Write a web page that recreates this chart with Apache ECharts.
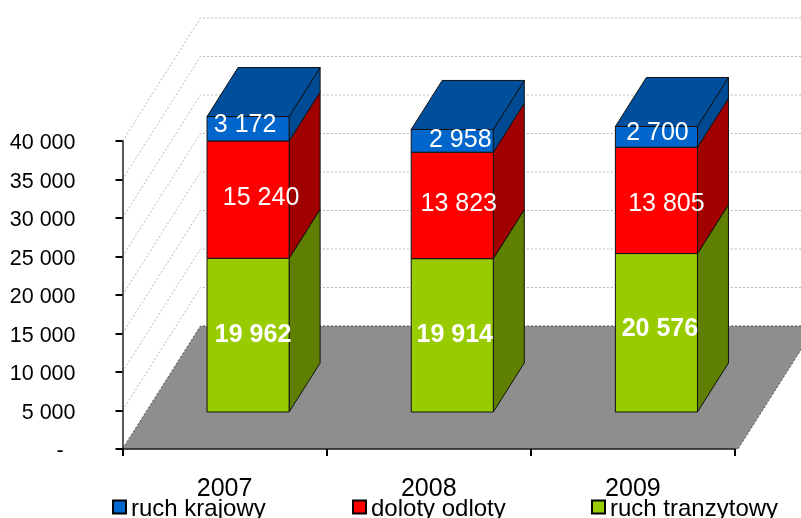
<!DOCTYPE html>
<html>
<head>
<meta charset="utf-8">
<style>html,body{margin:0;padding:0;background:#fff;overflow:hidden}#c{width:801px;height:518px}</style>
<script src="https://cdn.jsdelivr.net/npm/echarts@6/dist/echarts.min.js"></script>
</head>
<body>
<div id="c"></div>
<script>
const categories = ['2007', '2008', '2009'];
const ruchKrajowy = [3172, 2958, 2700];
const dolotyOdloty = [15240, 13823, 13805];
const ruchTranzytowy = [19962, 19914, 20576];
const yTicks = [0, 5000, 10000, 15000, 20000, 25000, 30000, 35000, 40000];

// Perspective of the fake-3D plot (pixels)
const WALL_DX = 78, WALL_DY = -123;
const FRONT_DX = 23.5, FRONT_DY = -37;
const BAR_DX = 31, BAR_DY = -49;
const BAR_RATIO = 0.402;
const FONT = '"Liberation Sans", Arial, sans-serif';
const fmt = v => v === 0 ? '-\u00A0\u00A0' : String(v).replace(/\B(?=(\d{3})+$)/g, ' ');

// Manual label nudges from the reference [dx, dy] per category
const nudgeBlue = [[-3, -4], [8, -1], [1, -4]];
const nudgeRed = [[13, -1.5], [6.5, -1.5], [10, 3.5]];
const nudgeGreen = [[5, 0], [2.5, 0], [3.5, -4]];

function segments(values, below) {
  return values.map((v, i) => {
    const base = below.reduce((s, arr) => s + arr[i], 0);
    return [i, base, base + v, v];
  });
}

function barSeries(name, values, below, look, nudges, bold, hasTop) {
  return {
    name, type: 'custom', coordinateSystem: 'cartesian2d', z: 4,
    itemStyle: { color: look.front },
    encode: { x: 0, y: 2 },
    data: segments(values, below),
    renderItem(params, api) {
      const i = api.value(0);
      const cx = api.coord([i, 0])[0] + FRONT_DX;
      const w = api.size([1, 0])[0] * BAR_RATIO;
      const yb = api.coord([i, api.value(1)])[1] + FRONT_DY;
      const yt = api.coord([i, api.value(2)])[1] + FRONT_DY;
      const l = cx - w / 2, r = cx + w / 2;
      const edge = { stroke: '#111', lineWidth: 1 };
      const children = [
        { type: 'polygon', shape: { points: [[r, yb], [r + BAR_DX, yb + BAR_DY], [r + BAR_DX, yt + BAR_DY], [r, yt]] },
          style: Object.assign({ fill: look.side }, edge) },
        { type: 'rect', shape: { x: l, y: yt, width: w, height: yb - yt },
          style: Object.assign({ fill: look.front }, edge) }
      ];
      if (hasTop) {
        children.push({ type: 'polygon',
          shape: { points: [[l, yt], [l + BAR_DX, yt + BAR_DY], [r + BAR_DX, yt + BAR_DY], [r, yt]] },
          style: Object.assign({ fill: look.top }, edge) });
      }
      children.push({ type: 'text', style: {
        text: fmt(api.value(3)),
        x: cx + nudges[i][0], y: (yb + yt) / 2 + nudges[i][1],
        fill: '#fff', align: 'center', verticalAlign: 'middle',
        font: (bold ? 'bold ' : '') + '25px ' + FONT
      } });
      return { type: 'group', children };
    }
  };
}

const wallSeries = {
  type: 'custom', coordinateSystem: 'cartesian2d', z: 1, silent: true,
  encode: { x: 0, y: 1 },
  data: yTicks.map(t => [0, t]),
  renderItem(params, api) {
    const cs = params.coordSys;
    const y = api.coord([0, api.value(1)])[1];
    const x0 = cs.x, x1 = cs.x + cs.width;
    const style = { stroke: '#b8b8b8', lineWidth: 1, lineDash: [2, 2], fill: 'none' };
    return { type: 'polyline',
      shape: { points: [[x0, y], [x0 + WALL_DX, y + WALL_DY], [x1 + WALL_DX, y + WALL_DY]] },
      style };
  }
};

const floorSeries = {
  type: 'custom', coordinateSystem: 'cartesian2d', z: 2, silent: true,
  encode: { x: 0, y: 1 },
  data: [[0, 0]],
  renderItem(params, api) {
    const cs = params.coordSys;
    const y = api.coord([0, 0])[1];
    const x0 = cs.x, x1 = cs.x + cs.width + 3;
    return { type: 'polygon',
      shape: { points: [[x0, y], [x1, y], [x1 + WALL_DX, y + WALL_DY], [x0 + WALL_DX, y + WALL_DY]] },
      style: { fill: '#8e8e8e', stroke: '#555', lineWidth: 1, lineDash: [2, 2] } };
  }
};

const LOOK = {
  blue: { front: '#0066cc', side: '#004a94', top: '#004f9c' },
  red: { front: '#ff0000', side: '#a00000' },
  green: { front: '#99cc00', side: '#5f7f00' }
};

function legendAt(name, left) {
  return {
    data: [name], left, top: 497, orient: 'horizontal', icon: 'rect',
    itemWidth: 13, itemHeight: 13, selectedMode: false, padding: 0,
    itemStyle: { borderColor: '#000', borderWidth: 2 },
    formatter: '{t|{name}}',
    textStyle: { fontFamily: FONT, fontSize: 24, color: '#000',
      rich: { t: { fontFamily: FONT, fontSize: 24, color: '#000', padding: [4, 0, 0, 0] } } }
  };
}

const chart = echarts.init(document.getElementById('c'), null, { renderer: 'canvas' });
chart.setOption({
  animation: false,
  backgroundColor: '#fff',
  grid: { left: 122.5, right: 801 - 735, top: 141, bottom: 518 - 449, containLabel: false },
  legend: [
    legendAt('ruch krajowy', 112),
    legendAt('doloty odloty', 352),
    legendAt('ruch tranzytowy', 591)
  ],
  xAxis: {
    type: 'category', data: categories, z: 5,
    axisLine: { lineStyle: { color: '#222', width: 1.5 } },
    axisTick: { show: true, length: 7, lineStyle: { color: '#000', width: 2 } },
    axisLabel: { fontFamily: FONT, fontSize: 25, color: '#000', margin: 28 },
    splitLine: { show: false }
  },
  yAxis: {
    type: 'value', min: 0, max: 40000, interval: 5000, z: 5,
    axisLine: { show: true, lineStyle: { color: '#222', width: 1.5 } },
    axisTick: { show: true, length: 7, lineStyle: { color: '#000', width: 2 } },
    axisLabel: { fontFamily: FONT, fontSize: 21.5, color: '#000', margin: 47, formatter: fmt,
      verticalAlign: 'top', lineHeight: 5 },
    splitLine: { show: false }
  },
  series: [
    wallSeries,
    floorSeries,
    barSeries('ruch tranzytowy', ruchTranzytowy, [], LOOK.green, nudgeGreen, true, false),
    barSeries('doloty odloty', dolotyOdloty, [ruchTranzytowy], LOOK.red, nudgeRed, false, false),
    barSeries('ruch krajowy', ruchKrajowy, [ruchTranzytowy, dolotyOdloty], LOOK.blue, nudgeBlue, false, true)
  ]
});
</script>
</body>
</html>
